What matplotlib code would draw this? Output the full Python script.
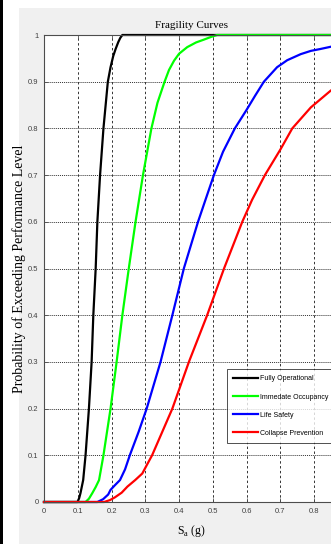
import matplotlib
matplotlib.use("Agg")
import matplotlib.pyplot as plt
from matplotlib.patches import Rectangle

# values (Sa in g, probability)
sa_fo = [0.0, 0.099, 0.104, 0.108, 0.116, 0.123, 0.133, 0.141, 0.146, 0.153, 0.158, 0.166, 0.176,
         0.189, 0.197, 0.205, 0.212, 0.22, 0.226, 0.232, 0.9]
p_fo = [0.0, 0.0, 0.008, 0.019, 0.047, 0.1, 0.2, 0.3, 0.4, 0.5, 0.6, 0.7, 0.8,
        0.9, 0.931, 0.955, 0.97, 0.985, 0.994, 1.0, 1.0]

sa_io = [0.0, 0.123, 0.133, 0.143, 0.153, 0.163, 0.176, 0.197, 0.215, 0.232, 0.251, 0.271, 0.293, 0.318,
         0.336, 0.357, 0.37, 0.385, 0.40, 0.424, 0.45, 0.473, 0.495, 0.513, 0.9]
p_io = [0.0, 0.0, 0.007, 0.019, 0.032, 0.047, 0.1, 0.2, 0.3, 0.4, 0.5, 0.6, 0.7, 0.8,
        0.855, 0.9, 0.925, 0.945, 0.96, 0.974, 0.984, 0.99, 0.996, 1.0, 1.0]

sa_ls = [0.0, 0.158, 0.175, 0.19, 0.197, 0.21, 0.225, 0.24, 0.254, 0.28, 0.304, 0.345, 0.380, 0.414, 0.456,
         0.478, 0.503, 0.53, 0.565, 0.60, 0.625, 0.651, 0.69, 0.72, 0.76, 0.79, 0.818, 0.85, 0.9]
p_ls = [0.0, 0.0, 0.006, 0.016, 0.026, 0.036, 0.047, 0.07, 0.1, 0.15, 0.2, 0.3, 0.4, 0.5, 0.6,
        0.647, 0.7, 0.75, 0.8, 0.84, 0.87, 0.9, 0.931, 0.946, 0.959, 0.966, 0.970, 0.975, 0.98]

sa_cp = [0.0, 0.178, 0.195, 0.21, 0.23, 0.247, 0.27, 0.291, 0.305, 0.320, 0.35, 0.380, 0.429, 0.483, 0.533,
         0.587, 0.616, 0.654, 0.70, 0.735, 0.79, 0.849, 0.9]
p_cp = [0.0, 0.0, 0.004, 0.01, 0.02, 0.033, 0.047, 0.061, 0.08, 0.1, 0.15, 0.2, 0.3, 0.4, 0.5,
        0.6, 0.647, 0.7, 0.755, 0.8, 0.845, 0.881, 0.905]

labels = ["Fully Operational", "Immedate Occupancy", "Life Safety", "Collapse Prevention"]
colors = ["k", (0, 1, 0), "b", "r"]
xticks = [0, 0.1, 0.2, 0.3, 0.4, 0.5, 0.6, 0.7, 0.8]
xticklabels = ["0", "0.1", "0.2", "0.3", "0.4", "0.5", "0.6", "0.7", "0.8"]
yticks = [0, 0.1, 0.2, 0.3, 0.4, 0.5, 0.6, 0.7, 0.8, 0.9, 1]
yticklabels = ["0", "0.1", "0.2", "0.3", "0.4", "0.5", "0.6", "0.7", "0.8", "0.9", "1"]

W, H = 331, 544
fig = plt.figure(figsize=(W / 100, H / 100), dpi=100, facecolor="white")

# matlab-ish grey figure area and black strip at left (screenshot crop)
fig.patches.append(Rectangle((19 / W, 0), 1, 1 - 8 / H, transform=fig.transFigure,
                             facecolor="#f0f0f0", edgecolor="none", zorder=-10))
fig.patches.append(Rectangle((0, 0), 3 / W, 1, transform=fig.transFigure,
                             facecolor="black", edgecolor="none", zorder=-10))

ax = fig.add_axes([44 / W, 1 - 502 / H, 304 / W, 467 / H])
ax.set_facecolor("white")

for sa, p, lab, c in zip([sa_fo, sa_io, sa_ls, sa_cp], [p_fo, p_io, p_ls, p_cp], labels, colors):
    ax.plot(sa, p, color=c, lw=1.6, label=lab, clip_on=False, solid_joinstyle="round")

ax.set_xlim(0, 0.9)
ax.set_ylim(0, 1)
ax.set_xticks(xticks)
ax.set_yticks(yticks)
ax.set_xticklabels(xticklabels)
ax.set_yticklabels(yticklabels)

tick_font = ["Liberation Sans Narrow", "Liberation Sans"]
for lab in ax.get_xticklabels() + ax.get_yticklabels():
    lab.set_family(tick_font)
    lab.set_fontsize(5.5)
    lab.set_color("0.25")
ax.tick_params(direction="in", length=3, width=0.6, color="0.3", pad=4, top=True)

ax.xaxis.grid(True, linestyle=(0, (2.5, 2.5)), color="0.2", lw=0.7)
ax.yaxis.grid(True, linestyle=(0, (1, 1)), color="0.2", lw=0.7)
ax.set_axisbelow(True)
for s in ax.spines.values():
    s.set_color("0.3")
    s.set_linewidth(0.8)

ax.set_title("Fragility Curves", family="Liberation Serif", fontsize=8, x=(191 - 44) / 304, pad=5)
ax.set_ylabel("Probability of Exceeding Performance Level", family="Liberation Serif", fontsize=10)
ax.yaxis.set_label_coords((26 - 44) / 304, 0.5)
ax.set_xlabel(r"S$_\mathregular{a}$ (g)", family="Liberation Serif", fontsize=8.5)
ax.xaxis.set_label_coords((191 - 44) / 304, -0.045)

leg = ax.legend(loc="lower left", bbox_to_anchor=((227 - 44) / 304, (502 - 443) / 467),
                prop={"family": tick_font, "size": 5}, frameon=True, fancybox=False,
                edgecolor="black", handlelength=3.6, labelspacing=1.6, borderpad=0.9,
                handletextpad=0.3, borderaxespad=0)
leg.get_frame().set_linewidth(0.6)

fig.savefig("out.png", dpi=100, facecolor=fig.get_facecolor())
